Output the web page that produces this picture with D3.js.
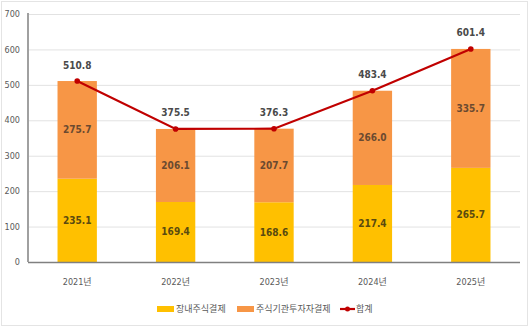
<!DOCTYPE html>
<html>
<head>
<meta charset="utf-8">
<script src="https://cdn.jsdelivr.net/npm/d3@7/dist/d3.min.js"></script>
<style>
  html, body { margin: 0; padding: 0; background: #fff; }
  svg { display: block; }
  text { font-family: "Liberation Sans Narrow", "DejaVu Sans Condensed", "Noto Sans CJK KR", sans-serif; }
</style>
</head>
<body>
<svg id="chart" width="530" height="331"></svg>
<script>
// Settlement amounts by year (stacked) and the yearly total
const years = ["2021년", "2022년", "2023년", "2024년", "2025년"];
const exchangeSettle = [235.1, 169.4, 168.6, 217.4, 265.7];
const institutionalSettle = [275.7, 206.1, 207.7, 266.0, 335.7];
const totals = [510.8, 375.5, 376.3, 483.4, 601.4];
const yTicks = [0, 100, 200, 300, 400, 500, 600, 700];
const seriesNames = ["장내주식결제", "주식기관투자자결제", "합계"];

const svg = d3.select("#chart");
const W = 530, H = 331;
const plot = { left: 28, right: 520, top: 14, bottom: 262 };

// outer frame
svg.append("rect")
  .attr("x", 1.5).attr("y", 1.5).attr("width", W - 4).attr("height", H - 7)
  .attr("fill", "none").attr("stroke", "#e4e4e4").attr("stroke-width", 1);

const x = d3.scaleBand().domain(years).range([plot.left, plot.right]).paddingInner(0.6).paddingOuter(0.3);
const y = d3.scaleLinear().domain([0, 700]).range([plot.bottom, plot.top]);

// horizontal gridlines
svg.append("g").selectAll("line").data(yTicks.filter(d => d > 0)).join("line")
  .attr("x1", plot.left).attr("x2", plot.right)
  .attr("y1", d => y(d) + 0.5).attr("y2", d => y(d) + 0.5)
  .attr("stroke", "#e2e2e2").attr("stroke-width", 1);

// y tick labels
svg.append("g").selectAll("text").data(yTicks).join("text")
  .attr("x", 20).attr("y", d => y(d)).attr("dy", "0.35em")
  .attr("text-anchor", "end").attr("font-size", 9).attr("fill", "#595959")
  .text(d => d);

// stacked bars
const rows = years.map((yr, i) => ({ year: yr, a: exchangeSettle[i], b: institutionalSettle[i] }));
const stack = d3.stack().keys(["a", "b"])(rows);
const colors = { a: "#ffc000", b: "#f79646" };

svg.append("g").selectAll("g").data(stack).join("g")
  .attr("fill", s => colors[s.key])
  .selectAll("rect").data(s => s).join("rect")
  .attr("x", d => x(d.data.year))
  .attr("width", x.bandwidth())
  .attr("y", d => y(d[1]))
  .attr("height", d => y(d[0]) - y(d[1]));

// segment value labels
stack.forEach(s => {
  svg.append("g").selectAll("text").data(s).join("text")
    .attr("x", d => x(d.data.year) + x.bandwidth() / 2)
    .attr("y", d => y((d[0] + d[1]) / 2))
    .attr("dy", "0.35em")
    .attr("text-anchor", "middle").attr("font-size", 10).attr("font-weight", "bold")
    .attr("fill", s.key === "a" ? "#5a4a10" : "#6b4a30")
    .text(d => (d[1] - d[0]).toFixed(1));
});

// axes lines
svg.append("line").attr("x1", plot.left).attr("x2", plot.right)
  .attr("y1", plot.bottom + 0.5).attr("y2", plot.bottom + 0.5)
  .attr("stroke", "#808080").attr("stroke-width", 1.5);
svg.append("line").attr("x1", plot.left).attr("x2", plot.left)
  .attr("y1", plot.top - 1).attr("y2", plot.bottom)
  .attr("stroke", "#a0a0a0").attr("stroke-width", 2);

// x labels
svg.append("g").selectAll("text").data(years).join("text")
  .attr("x", d => x(d) + x.bandwidth() / 2).attr("y", 282).attr("dy", "0.35em")
  .attr("text-anchor", "middle").attr("font-size", 9).attr("fill", "#595959")
  .text(d => d);

// total line
const cx = i => x(years[i]) + x.bandwidth() / 2;
const line = d3.line().x((d, i) => cx(i)).y(d => y(d));
svg.append("path").datum(totals).attr("d", line)
  .attr("fill", "none").attr("stroke", "#c00000").attr("stroke-width", 2.2);
svg.append("g").selectAll("circle").data(totals).join("circle")
  .attr("cx", (d, i) => cx(i)).attr("cy", d => y(d)).attr("r", 2.8).attr("fill", "#c00000");
svg.append("g").selectAll("text").data(totals).join("text")
  .attr("x", (d, i) => cx(i)).attr("y", d => y(d) - 16).attr("dy", "0.35em")
  .attr("text-anchor", "middle").attr("font-size", 10).attr("font-weight", "bold").attr("fill", "#4a4a4a")
  .text(d => d.toFixed(1));

// legend
const lg = svg.append("g").attr("font-size", 9).attr("fill", "#595959");
const ly = 309;
lg.append("rect").attr("x", 157).attr("y", ly - 3).attr("width", 17).attr("height", 6).attr("fill", colors.a);
lg.append("text").attr("x", 176).attr("y", ly).attr("dy", "0.35em").text(seriesNames[0]);
lg.append("rect").attr("x", 237).attr("y", ly - 3).attr("width", 17).attr("height", 6).attr("fill", colors.b);
lg.append("text").attr("x", 256).attr("y", ly).attr("dy", "0.35em").text(seriesNames[1]);
lg.append("line").attr("x1", 340).attr("x2", 355).attr("y1", ly).attr("y2", ly)
  .attr("stroke", "#c00000").attr("stroke-width", 2.2);
lg.append("circle").attr("cx", 347.5).attr("cy", ly).attr("r", 2.5).attr("fill", "#c00000");
lg.append("text").attr("x", 356).attr("y", ly).attr("dy", "0.35em").text(seriesNames[2]);
</script>
</body>
</html>
